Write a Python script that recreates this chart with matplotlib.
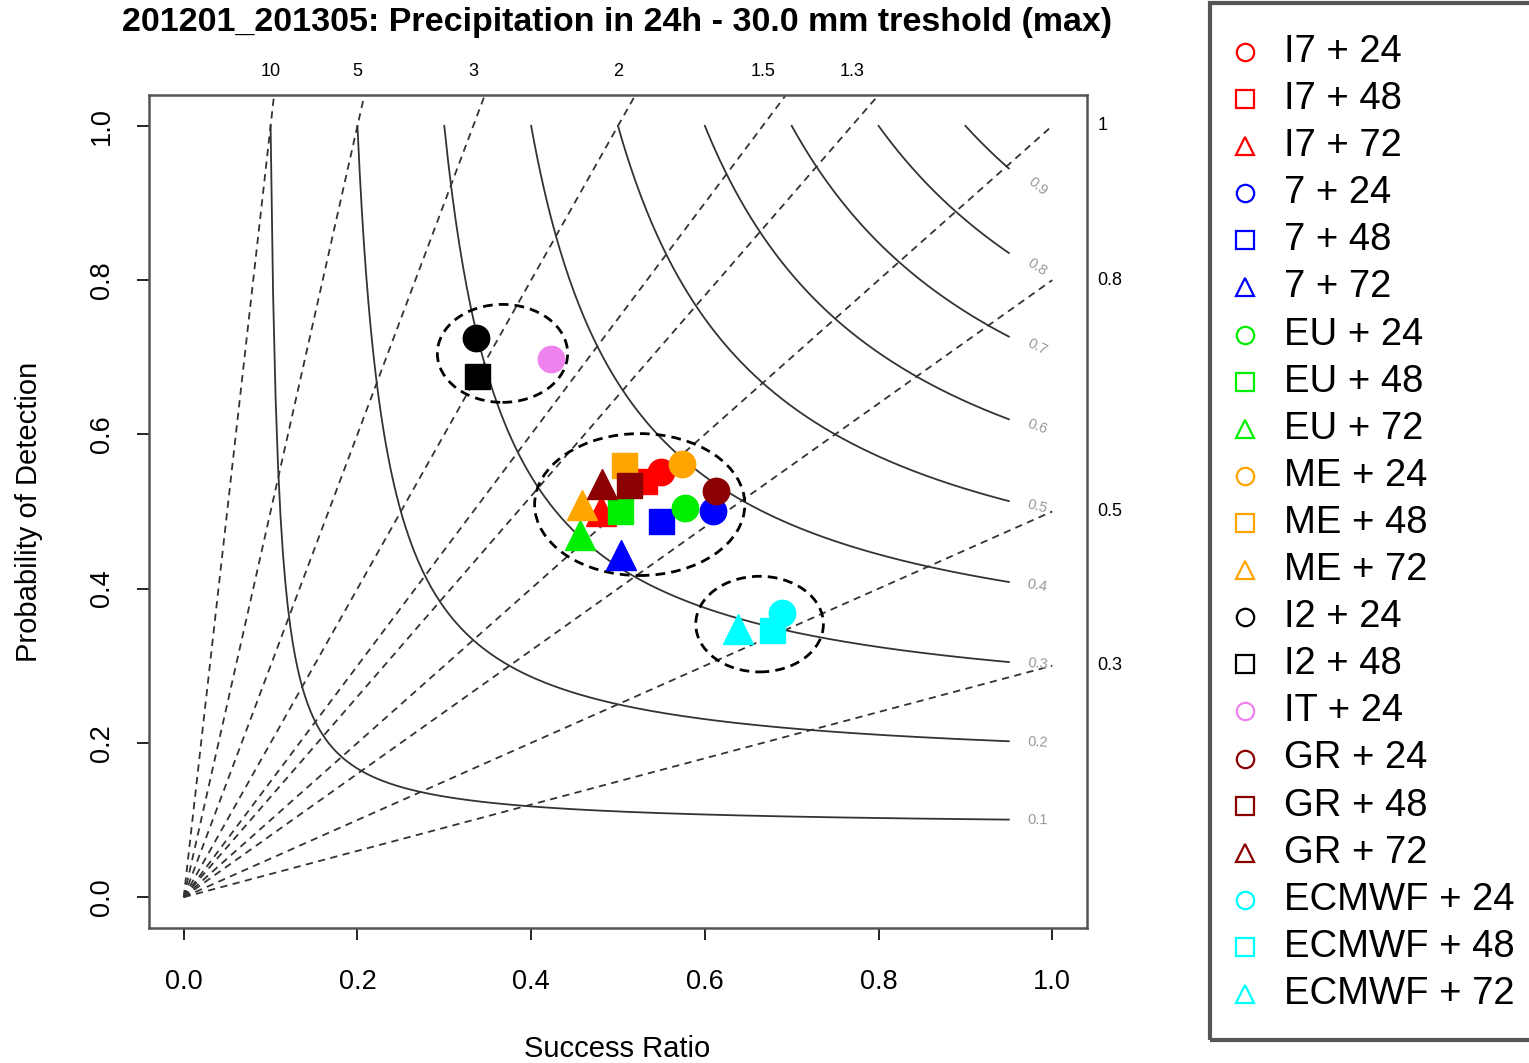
import numpy as np
import matplotlib
matplotlib.use("Agg")
import matplotlib.pyplot as plt
from matplotlib.patches import Ellipse, Rectangle

plt.rcParams['font.family'] = ['Liberation Sans', 'DejaVu Sans']

# forecast runs: label, success ratio, probability of detection
labels = ["I7 + 24", "I7 + 48", "I7 + 72",
          "7 + 24", "7 + 48", "7 + 72",
          "EU + 24", "EU + 48", "EU + 72",
          "ME + 24", "ME + 48", "ME + 72",
          "I2 + 24", "I2 + 48",
          "IT + 24",
          "GR + 24", "GR + 48", "GR + 72",
          "ECMWF + 24", "ECMWF + 48", "ECMWF + 72"]
success_ratio = [0.550, 0.530, 0.480,
                 0.609, 0.550, 0.503,
                 0.577, 0.502, 0.456,
                 0.574, 0.507, 0.458,
                 0.337, 0.338,
                 0.423,
                 0.613, 0.513, 0.482,
                 0.689, 0.677, 0.638]
pod = [0.551, 0.540, 0.501,
       0.501, 0.488, 0.443,
       0.504, 0.501, 0.469,
       0.562, 0.560, 0.508,
       0.725, 0.676,
       0.698,
       0.527, 0.534, 0.536,
       0.369, 0.346, 0.348]
colors = ["red"] * 3 + ["blue"] * 3 + ["#00ee00"] * 3 + ["orange"] * 3 + \
         ["black"] * 2 + ["violet"] + ["darkred"] * 3 + ["cyan"] * 3
markers = ["o", "s", "^"] * 4 + ["o", "s"] + ["o"] + ["o", "s", "^"] * 2

bias_values = [0.3, 0.5, 0.8, 1, 1.3, 1.5, 2, 3, 5, 10]
top_bias_labels = [10, 5, 3, 2, 1.5, 1.3]
right_bias_labels = [1, 0.8, 0.5, 0.3]
csi_values = [0.1, 0.2, 0.3, 0.4, 0.5, 0.6, 0.7, 0.8, 0.9]

# groups circled by hand: centre x, centre y, width, height
circle_x = [0.367, 0.525, 0.663]
circle_y = [0.705, 0.509, 0.354]
circle_w = [0.150, 0.242, 0.147]
circle_h = [0.127, 0.184, 0.124]

W, H = 1529, 1063
fig = plt.figure(figsize=(W / 100, H / 100), dpi=100)
ax = fig.add_axes([149 / W, 1 - 928 / H, (1087 - 149) / W, (928 - 95) / H])
ax.set_xlim(-0.04, 1.04)
ax.set_ylim(-0.04, 1.04)

# frequency bias lines
xb = np.linspace(0, 1, 400)
for b in bias_values:
    ax.plot(xb, b * xb, color="#333333", lw=1.3, ls=(0, (4, 3)), zorder=1)

# critical success index curves
for c in csi_values:
    sr = np.linspace(c, 0.95, 300)
    p = 1 / (1 / c - 1 / sr + 1)
    ax.plot(sr, p, color="#333333", lw=1.3, zorder=1)

fig.canvas.draw()
for c in csi_values:
    s0, s1 = 0.95, 0.975
    p0 = 1 / (1 / c - 1 / s0 + 1)
    p1 = 1 / (1 / c - 1 / s1 + 1)
    d0 = ax.transData.transform((s0, p0))
    d1 = ax.transData.transform((s1, p1))
    ang = np.degrees(np.arctan2(d1[1] - d0[1], d1[0] - d0[0]))
    ax.text(s1 + 0.008, p1, f"{c:.1f}", color="#999999", fontsize=10.5,
            ha="center", va="center", rotation=ang, rotation_mode="anchor")

for b in top_bias_labels:
    ax.text(1 / b, 1.071, f"{b:g}", fontsize=13, ha="center", va="center",
            clip_on=False)
for b in right_bias_labels:
    ax.text(1.052, b, f"{b:g}", fontsize=13, ha="left", va="center",
            clip_on=False)

for x, y, w, h in zip(circle_x, circle_y, circle_w, circle_h):
    ax.add_patch(Ellipse((x, y), w, h, fill=False, ec="black", lw=2,
                         ls=(0, (3.5, 2.2)), zorder=2))

sizes = {"o": 19, "s": 18, "^": 21}
for x, y, c, m in zip(success_ratio, pod, colors, markers):
    ax.plot(x, y, marker=m, color=c, ms=sizes[m], mec=c, ls="none", zorder=3)

ticks = np.arange(0, 1.01, 0.2)
ax.set_xticks(ticks)
ax.set_yticks(ticks)
ax.set_xticklabels([f"{v:.1f}" for v in ticks])
ax.set_yticklabels([f"{v:.1f}" for v in ticks], rotation=90, va="center")
ax.tick_params(axis="x", length=8.5, width=1.2, pad=21, labelsize=19.5)
ax.tick_params(axis="y", length=8.5, width=1.2, pad=16, labelsize=19.5)
for sp in ax.spines.values():
    sp.set_color("#555555")
    sp.set_linewidth(1.8)

fig.text(617 / W, 1 - 1049 / H, "Success Ratio", fontsize=21,
         ha="center", va="center")
fig.text(29 / W, 1 - 512 / H, "Probability of Detection", fontsize=21,
         ha="center", va="center", rotation=90)
fig.text(617 / W, 1 - 23 / H,
         "201201_201305: Precipitation in 24h - 30.0 mm treshold (max)",
         fontsize=24.5, fontweight="bold", ha="center", va="center")

# legend panel
fig.patches.append(Rectangle((1210 / W, 1 - 1040 / H), 400 / W, 1037 / H,
                             transform=fig.transFigure, fill=False,
                             ec="#555555", lw=3, zorder=5))
row0, step = 52, 47.1
for i, (lab, c, m) in enumerate(zip(labels, colors, markers)):
    yy = 1 - (row0 + i * step) / H
    fig.add_artist(plt.Line2D([1245 / W], [yy], marker=m, mfc="none", mec=c,
                              ms=12.5, mew=1.6, ls="none",
                              transform=fig.transFigure))
    fig.text(1284 / W, yy, lab, fontsize=27.5, ha="left", va="center")

fig.savefig("out.png", dpi=100, facecolor="white")
